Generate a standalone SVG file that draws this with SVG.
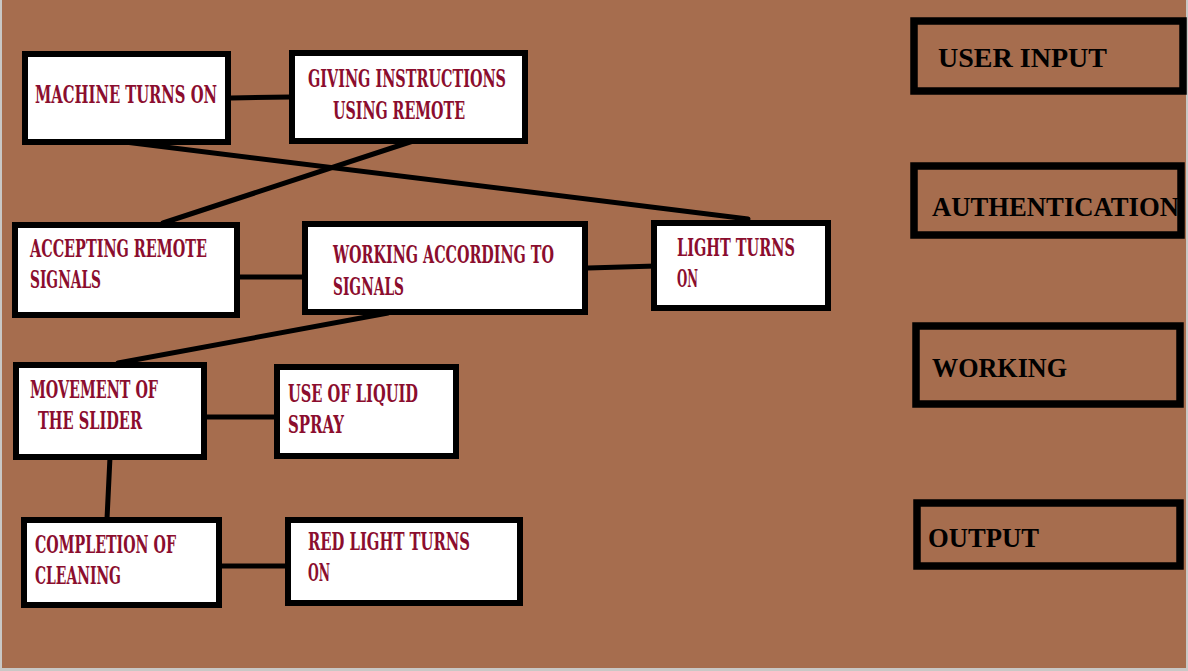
<svg xmlns="http://www.w3.org/2000/svg" width="1188" height="671" viewBox="0 0 1188 671">
<style>
.node{fill:#ffffff;stroke:#000;stroke-width:6}
.leg{fill:none;stroke:#000;stroke-width:7.5}
.t{font-family:"DejaVu Serif Condensed","Liberation Serif",serif;font-weight:bold;font-size:25px;fill:#8b0d2e}
.lt{font-family:"Liberation Serif","DejaVu Serif",serif;font-weight:bold;font-size:27px;fill:#000}
.c{stroke:#000;stroke-width:5;stroke-linecap:round;fill:none}
</style>
<rect x="0" y="0" width="1188" height="671" fill="#c9c8c6"/>
<rect x="2" y="0" width="1184" height="668" fill="#a66d4e"/>
<g id="connectors">
<line class="c" x1="231" y1="98" x2="291" y2="97"/>
<line class="c" x1="125" y1="142" x2="748" y2="219"/>
<line class="c" x1="413" y1="141" x2="163" y2="223"/>
<line class="c" x1="240" y1="277" x2="303" y2="277"/>
<line class="c" x1="588" y1="268" x2="656" y2="266"/>
<line class="c" x1="388" y1="313" x2="118" y2="363"/>
<line class="c" x1="207" y1="417" x2="276" y2="417"/>
<line class="c" x1="110" y1="457" x2="107" y2="519"/>
<line class="c" x1="222" y1="566" x2="289" y2="566"/>
</g>
<g id="n1"><rect class="node" x="25" y="54" width="203" height="88"/>
<text class="t" x="35" y="103" textLength="182" lengthAdjust="spacingAndGlyphs">MACHINE TURNS ON</text></g>
<g id="n2"><rect class="node" x="292" y="53" width="233" height="88"/>
<text class="t" x="308" y="87" textLength="198" lengthAdjust="spacingAndGlyphs">GIVING INSTRUCTIONS</text>
<text class="t" x="333" y="119" textLength="132" lengthAdjust="spacingAndGlyphs">USING REMOTE</text></g>
<g id="n3"><rect class="node" x="15" y="225" width="222" height="90"/>
<text class="t" x="30" y="257" textLength="177" lengthAdjust="spacingAndGlyphs">ACCEPTING REMOTE</text>
<text class="t" x="30" y="288" textLength="71" lengthAdjust="spacingAndGlyphs">SIGNALS</text></g>
<g id="n4"><rect class="node" x="305" y="224" width="280" height="88"/>
<text class="t" x="333" y="263" textLength="221" lengthAdjust="spacingAndGlyphs">WORKING ACCORDING TO</text>
<text class="t" x="333" y="295" textLength="71" lengthAdjust="spacingAndGlyphs">SIGNALS</text></g>
<g id="n5"><rect class="node" x="654" y="223" width="174" height="85"/>
<text class="t" x="677" y="256" textLength="118" lengthAdjust="spacingAndGlyphs">LIGHT TURNS</text>
<text class="t" x="677" y="287" textLength="21" lengthAdjust="spacingAndGlyphs">ON</text></g>
<g id="n6"><rect class="node" x="16" y="365" width="188" height="92"/>
<text class="t" x="30" y="398" textLength="128" lengthAdjust="spacingAndGlyphs">MOVEMENT OF</text>
<text class="t" x="38" y="429" textLength="104" lengthAdjust="spacingAndGlyphs">THE SLIDER</text></g>
<g id="n7"><rect class="node" x="277" y="367" width="179" height="89"/>
<text class="t" x="288" y="402" textLength="130" lengthAdjust="spacingAndGlyphs">USE OF LIQUID</text>
<text class="t" x="288" y="433" textLength="56" lengthAdjust="spacingAndGlyphs">SPRAY</text></g>
<g id="n8"><rect class="node" x="24" y="520" width="195" height="85"/>
<text class="t" x="35" y="553" textLength="141" lengthAdjust="spacingAndGlyphs">COMPLETION OF</text>
<text class="t" x="35" y="584" textLength="86" lengthAdjust="spacingAndGlyphs">CLEANING</text></g>
<g id="n9"><rect class="node" x="288" y="520" width="232" height="83"/>
<text class="t" x="308" y="550" textLength="162" lengthAdjust="spacingAndGlyphs">RED LIGHT TURNS</text>
<text class="t" x="308" y="581" textLength="22" lengthAdjust="spacingAndGlyphs">ON</text></g>
<g id="legend-user-input"><rect class="leg" x="914" y="21" width="269" height="70"/>
<text class="lt" x="938" y="67" textLength="169" lengthAdjust="spacingAndGlyphs">USER INPUT</text></g>
<g id="legend-authentication"><rect class="leg" x="914" y="166" width="267" height="69"/>
<text class="lt" x="932" y="216" textLength="247" lengthAdjust="spacingAndGlyphs">AUTHENTICATION</text></g>
<g id="legend-working"><rect class="leg" x="916" y="326" width="264" height="78"/>
<text class="lt" x="932" y="377" textLength="135" lengthAdjust="spacingAndGlyphs">WORKING</text></g>
<g id="legend-output"><rect class="leg" x="917" y="503" width="263" height="63"/>
<text class="lt" x="928" y="547" textLength="111" lengthAdjust="spacingAndGlyphs">OUTPUT</text></g>
</svg>
